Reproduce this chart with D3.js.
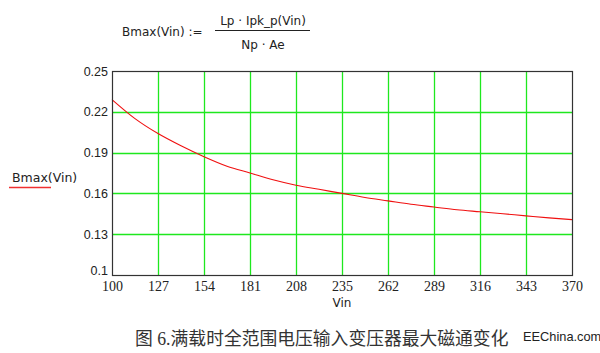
<!DOCTYPE html>
<html>
<head>
<meta charset="utf-8">
<script src="https://cdn.jsdelivr.net/npm/d3@7"></script>
<style>
  body { margin: 0; background: #fff; }
  svg { display: block; }
</style>
</head>
<body>
<div id="chart"></div>
<script>
// data
const vin = [100, 113.5, 127, 140.5, 154, 167.5, 181, 194.5, 208, 221.5, 235,
             248.5, 262, 275.5, 289, 302.5, 316, 329.5, 343, 356.5, 370];
const bmax = [0.229, 0.215, 0.204, 0.195, 0.187, 0.180, 0.175, 0.170, 0.166, 0.163, 0.160,
              0.157, 0.1545, 0.152, 0.150, 0.148, 0.1465, 0.145, 0.1435, 0.142, 0.1407];
const xTicks = [100, 127, 154, 181, 208, 235, 262, 289, 316, 343, 370];
const yTicks = [0.1, 0.13, 0.16, 0.19, 0.22, 0.25];
const yTickLabels = ["0.1", "0.13", "0.16", "0.19", "0.22", "0.25"];

const W = 600, H = 353;
const margin = {top: 71, right: 28, bottom: 78, left: 112},
  width = W - margin.left - margin.right,
  height = H - margin.top - margin.bottom;

const svg = d3.select("#chart")
  .append("svg")
  .attr("width", W)
  .attr("height", H);

const sans = "'DejaVu Sans', Verdana, sans-serif";

// formula at the top
svg.append("text").attr("x", 122).attr("y", 36)
  .style("font-family", sans).style("font-size", "12px").attr("fill", "#222")
  .text("Bmax(Vin) :=");
svg.append("text").attr("x", 263).attr("y", 25).attr("text-anchor", "middle")
  .style("font-family", sans).style("font-size", "12px").attr("fill", "#222")
  .text("Lp \u00b7 Ipk_p(Vin)");
svg.append("line").attr("x1", 215).attr("x2", 310).attr("y1", 30.5).attr("y2", 30.5)
  .attr("stroke", "#222").attr("stroke-width", 1);
svg.append("text").attr("x", 263).attr("y", 49).attr("text-anchor", "middle")
  .style("font-family", sans).style("font-size", "12px").attr("fill", "#222")
  .text("Np \u00b7 Ae");

const g = svg.append("g")
  .attr("transform", `translate(${margin.left},${margin.top})`);

const x = d3.scaleLinear().domain([100, 370]).range([0, width]);
const y = d3.scaleLinear().domain([0.1, 0.25]).range([height, 0]);

// grid
g.append("g")
  .selectAll("line")
  .data(xTicks.slice(1, -1))
  .join("line")
  .attr("x1", d => Math.round(x(d)) + 0.5).attr("x2", d => Math.round(x(d)) + 0.5)
  .attr("y1", 0).attr("y2", height)
  .attr("stroke", "#1ee81e").attr("stroke-width", 1.3);
g.append("g")
  .selectAll("line")
  .data(yTicks.slice(1, -1))
  .join("line")
  .attr("y1", d => Math.round(y(d)) + 0.5).attr("y2", d => Math.round(y(d)) + 0.5)
  .attr("x1", 0).attr("x2", width)
  .attr("stroke", "#1ee81e").attr("stroke-width", 1.3);

// curve
const line = d3.line()
  .x((d, i) => x(vin[i]))
  .y(d => y(d))
  .curve(d3.curveMonotoneX);
g.append("path")
  .datum(bmax)
  .attr("fill", "none")
  .attr("stroke", "#f01010")
  .attr("stroke-width", 1.1)
  .attr("d", line);

// frame
g.append("rect")
  .attr("x", 0.5).attr("y", 0.5)
  .attr("width", width).attr("height", height)
  .attr("fill", "none").attr("stroke", "#333").attr("stroke-width", 1.2);

// y tick labels
const yAxis = d3.axisLeft(y)
  .tickValues(yTicks)
  .tickSize(0)
  .tickPadding(4)
  .tickFormat((d, i) => yTickLabels[i]);
g.append("g")
  .call(yAxis)
  .call(s => s.select(".domain").remove())
  .selectAll("text")
  .style("font-family", "'Liberation Sans', Arial, sans-serif")
  .style("font-size", "12.5px")
  .attr("fill", "#222")
  .attr("dy", (d, i) => i === 0 ? "-0.05em" : "0.32em");

// x tick labels
const xAxis = d3.axisBottom(x)
  .tickValues(xTicks)
  .tickSize(0)
  .tickPadding(6)
  .tickFormat(d3.format("d"));
g.append("g")
  .attr("transform", `translate(0,${height})`)
  .call(xAxis)
  .call(s => s.select(".domain").remove())
  .selectAll("text")
  .style("font-family", "'Liberation Serif', 'Times New Roman', serif")
  .style("font-size", "14px")
  .attr("fill", "#222");

// axis title
svg.append("text").attr("x", 342).attr("y", 307).attr("text-anchor", "middle")
  .style("font-family", sans).style("font-size", "12px").attr("fill", "#222")
  .text("Vin");

// legend
svg.append("text").attr("x", 12).attr("y", 182)
  .style("font-family", sans).style("font-size", "12.5px").attr("fill", "#222")
  .text("Bmax(Vin)");
svg.append("line").attr("x1", 9).attr("x2", 51).attr("y1", 187.5).attr("y2", 187.5)
  .attr("stroke", "#f03030").attr("stroke-width", 1.5);

// caption
svg.append("text").attr("x", 135).attr("y", 345)
  .style("font-family", "'Liberation Serif', 'Noto Sans CJK SC', serif")
  .style("font-size", "17.8px").attr("fill", "#333")
  .text("图 6.满载时全范围电压输入变压器最大磁通变化");
svg.append("text").attr("x", 523).attr("y", 341)
  .style("font-family", "'Liberation Sans', Arial, sans-serif")
  .style("font-size", "12.8px").attr("fill", "#222")
  .text("EEChina.com");
</script>
</body>
</html>
